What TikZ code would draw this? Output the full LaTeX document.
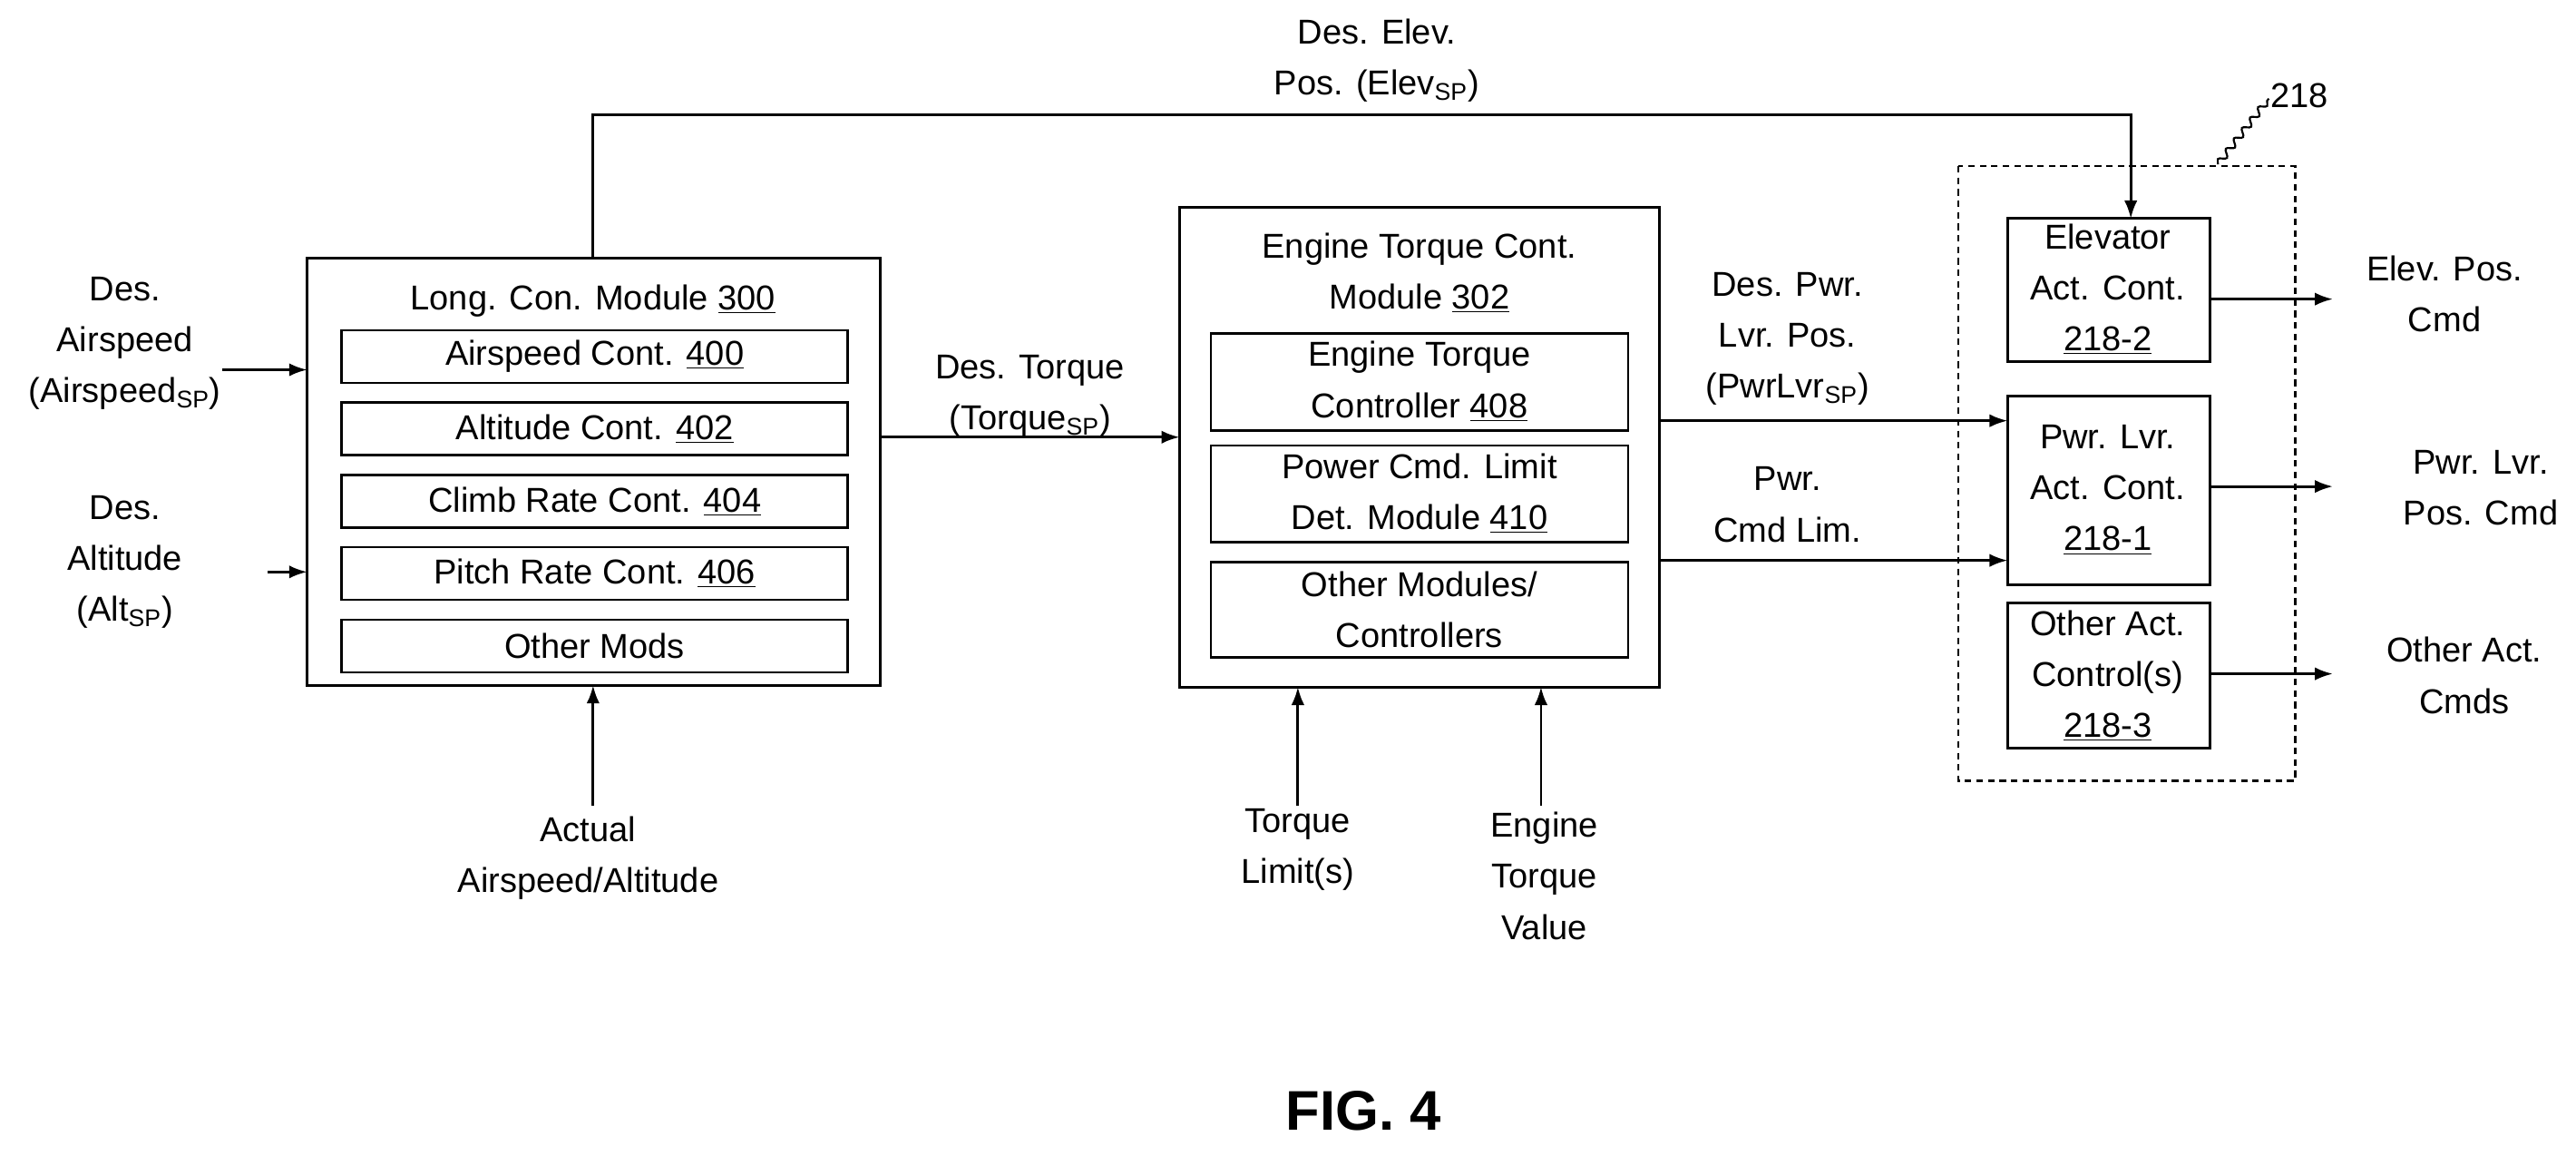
\documentclass[tikz,border=0pt]{standalone}
\usepackage{fontspec}
\setmainfont{Liberation Sans}
\usetikzlibrary{arrows.meta,decorations.pathmorphing}
\begin{document}
\begin{tikzpicture}[x=1pt,y=-1pt,
  box/.style={draw,line width=1.6pt,inner sep=0pt},
  ibox/.style={draw,line width=1.4pt,inner sep=0pt},
  t/.style={font=\fontsize{21}{31}\selectfont,align=center,inner sep=0pt},
  arr/.style={line width=1.6pt,-{Latex[length=11pt,width=8pt]}},
  ln/.style={line width=1.6pt}]
\useasboundingbox (0,0) rectangle (1568,703);
% Long box
\draw[box] (187,157) rectangle (536,417);
\node[t] (lt) at (361,183) {Long. Con. Module \underline{300}};
\foreach \ya/\yb/\txt [count=\i] in {201/233/Airspeed Cont. \underline{400},245/277/Altitude Cont. \underline{402},289/321/Climb Rate Cont. \underline{404},333/365/Pitch Rate Cont. \underline{406},377/409/Other Mods/Conts.}{
  \draw[ibox] (208,\ya) rectangle (516,\yb);
  \node[t] (l\i) at (362,{(\ya+\yb)/2}) {\txt};}
\coordinate (lb) at (361,157);
\coordinate (lbot) at (361,417);
% Engine box
\draw[box] (718,126) rectangle (1010,418);
\node[t] (et) at (864,166) {Engine Torque Cont.\\Module \underline{302}};
\draw[ibox] (737,203) rectangle (991,262);
\node[t] (e1) at (864,232) {Engine Torque\\Controller \underline{408}};
\draw[ibox] (737,271) rectangle (991,330);
\node[t] (e2) at (864,300) {Power Cmd. Limit\\Det. Module \underline{410}};
\draw[ibox] (737,342) rectangle (991,400);
\node[t] (e3) at (864,371) {Other Modules/\\Controllers};
% Actuator box
\draw[line width=1.4pt,dash pattern=on 4pt off 3pt] (1192,101) rectangle (1397,475);
\draw[box] (1222,133) rectangle (1345,220);
\node[t] (a1) at (1283,176) {Elevator\\Act. Cont.\\\underline{218-2}};
\draw[box] (1222,241) rectangle (1345,356);
\node[t] (a2) at (1283,298) {Pwr. Lvr.\\Act. Cont.\\\underline{218-1}};
\draw[box] (1222,367) rectangle (1345,455);
\node[t] (a3) at (1283,411) {Other Act.\\Control(s)\\\underline{218-3}};
\node[t,anchor=west] (n218) at (1382,58) {218};
\draw[ln,line width=1.2pt,decorate,decoration={snake,amplitude=2pt,segment length=8pt}] (1350,100) -- (1381,60);
% top feedback
\draw[arr] (lb) -- (361,70) -- (1297,70) -- (1297,133);
\node[t] (elev) at (838,37) {Des. Elev.\\Pos. (Elev\textsubscript{SP})};
% left inputs
\node[t] (ia) at (76,209) {Des.\\Airspeed\\(Airspeed\textsubscript{SP})};
\draw[arr] (135,225) -- (187,225);
\node[t] (ialt) at (76,342) {Des.\\Altitude\\(Alt\textsubscript{SP})};
\draw[arr] (163,348) -- (187,348);
% bottom
\node[t] (act) at (358,522) {Actual\\Airspeed/Altitude};
\draw[arr] (361,490) -- (lbot);
\draw[arr] (536,266) -- (718,266);
\node[t] (dt) at (627,241) {Des. Torque\\(Torque\textsubscript{SP})};
\node[t] (tl) at (790,517) {Torque\\Limit(s)};
\draw[arr] (790,490) -- (790,418);
\node[t] (etv) at (940,533) {Engine\\Torque\\Value};
\draw[arr] (938,490) -- (938,418);
% right
\node[t] (dp) at (1088,206) {Des. Pwr.\\Lvr. Pos.\\(PwrLvr\textsubscript{SP})};
\draw[arr] (1010,256) -- (1222,256);
\node[t] (pc) at (1088,307) {Pwr.\\Cmd Lim.};
\draw[arr] (1010,341) -- (1222,341);
\draw[arr] (1345,182) -- (1420,182);
\node[t] (o1) at (1488,179) {Elev. Pos.\\Cmd};
\draw[arr] (1345,296) -- (1420,296);
\node[t] (o2) at (1510,297) {Pwr. Lvr.\\Pos. Cmd};
\draw[arr] (1345,410) -- (1420,410);
\node[t] (o3) at (1500,411) {Other Act.\\Cmds};
\node[font=\fontsize{34}{40}\selectfont\bfseries] (fig) at (830,676) {FIG. 4};
\end{tikzpicture}
\end{document}
